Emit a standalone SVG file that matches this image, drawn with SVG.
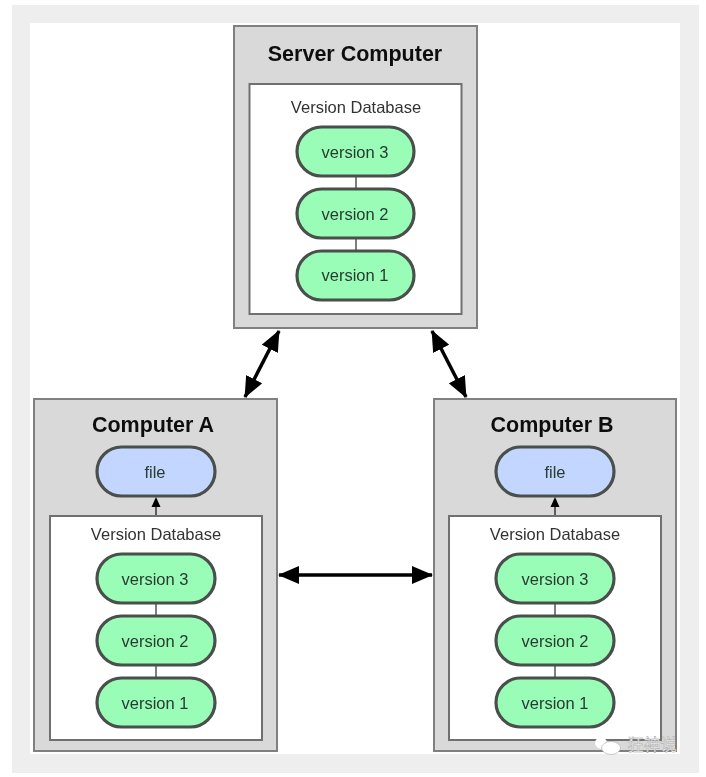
<svg xmlns="http://www.w3.org/2000/svg" width="706" height="777" viewBox="0 0 706 777">
<defs>
<style>
text{font-family:"Liberation Sans",Arial,sans-serif;text-anchor:middle;fill:#222}
.box{fill:#d9d9d9;stroke:#808080;stroke-width:2}
.db{fill:#fff;stroke:#707070;stroke-width:2}
.v{fill:#99fdb8;stroke:#4a4f4c;stroke-width:3.200}
.f{fill:#c2d6ff;stroke:#4a4f4c;stroke-width:3.200}
.t{font-size:21.500px;font-weight:bold;fill:#111}
.d{font-size:16.500px;fill:#333}
.l{font-size:16.500px;fill:#2a3a30}
.link{stroke:#555;stroke-width:1.500;fill:none}
.arr{stroke:#000;stroke-width:3.500;fill:none;marker-start:url(#a);marker-end:url(#a)}
</style>
<marker id="a" viewBox="0 0 21 18" refX="20" refY="9" markerUnits="userSpaceOnUse" markerWidth="21" markerHeight="18" orient="auto-start-reverse"><path d="M0 0L21 9L0 18Z" fill="#000"/></marker>
<filter id="soft" x="-5%" y="-5%" width="110%" height="110%"><feGaussianBlur stdDeviation="0.500"/></filter>
</defs>
<rect width="706" height="777" fill="#fff"/>
<rect x="12" y="5" width="687" height="768" fill="#eeeeee"/>
<rect x="30" y="23" width="650" height="731" fill="#fff"/>
<g filter="url(#soft)">
<g id="server">
<rect class="box" x="234" y="26" width="243" height="302"/>
<text class="t" x="355" y="61">Server Computer</text>
<rect class="db" x="249.500" y="84" width="212" height="230"/>
<text class="d" x="356" y="113">Version Database</text>
<path class="link" d="M356 176V190M356 238V252"/>
<g id="server-v3"><rect class="v" x="297" y="127" width="117" height="49" rx="24.500"/><text class="l" x="355" y="158">version 3</text></g>
<g id="server-v2"><rect class="v" x="297" y="189" width="117" height="49" rx="24.500"/><text class="l" x="355" y="220">version 2</text></g>
<g id="server-v1"><rect class="v" x="297" y="251" width="117" height="49" rx="24.500"/><text class="l" x="355" y="281">version 1</text></g>
</g>
<g id="computer-a">
<rect class="box" x="34" y="399" width="243" height="352"/>
<text class="t" x="153" y="432">Computer A</text>
<rect class="db" x="50" y="516" width="212" height="224"/>
<text class="d" x="156" y="540">Version Database</text>
<path class="link" d="M156 603V617M156 665V679"/>
<g id="a-file"><rect class="f" x="97" y="447" width="118" height="49" rx="24.500"/><text class="l" x="155" y="478">file</text></g>
<g id="a-v3"><rect class="v" x="97" y="554" width="118" height="49" rx="24.500"/><text class="l" x="155" y="585">version 3</text></g>
<g id="a-v2"><rect class="v" x="97" y="616" width="118" height="49" rx="24.500"/><text class="l" x="155" y="647">version 2</text></g>
<g id="a-v1"><rect class="v" x="97" y="678" width="118" height="49" rx="24.500"/><text class="l" x="155" y="709">version 1</text></g>
</g>
<g id="computer-b">
<rect class="box" x="434" y="399" width="242" height="352"/>
<text class="t" x="552" y="432">Computer B</text>
<rect class="db" x="449" y="516" width="212" height="224"/>
<text class="d" x="555" y="540">Version Database</text>
<path class="link" d="M555 603V617M555 665V679"/>
<g id="b-file"><rect class="f" x="496" y="447" width="118" height="49" rx="24.500"/><text class="l" x="555" y="478">file</text></g>
<g id="b-v3"><rect class="v" x="496" y="554" width="118" height="49" rx="24.500"/><text class="l" x="555" y="585">version 3</text></g>
<g id="b-v2"><rect class="v" x="496" y="616" width="118" height="49" rx="24.500"/><text class="l" x="555" y="647">version 2</text></g>
<g id="b-v1"><rect class="v" x="496" y="678" width="118" height="49" rx="24.500"/><text class="l" x="555" y="709">version 1</text></g>
</g>
<g id="connectors">
<path class="arr" d="M279 331L245 397"/>
<path class="arr" d="M432 331L466 397"/>
<path class="arr" d="M279 575H432"/>
<path d="M156 515V503" stroke="#333" stroke-width="1.500" fill="none"/><path d="M156 497L160.500 507H151.500Z" fill="#000"/>
<path d="M555 515V503" stroke="#333" stroke-width="1.500" fill="none"/><path d="M555 497L559.500 507H550.500Z" fill="#000"/>
</g>
</g>
<g id="watermark">
<ellipse cx="601" cy="743" rx="6" ry="5.500" fill="#fff"/>
<ellipse cx="611" cy="748" rx="9.500" ry="6.500" fill="#fff" stroke="#aaa" stroke-width="0.600"/>
<text x="652" y="751" style="font-family:'Noto Sans CJK SC','Liberation Sans',sans-serif;font-size:16.500px;fill:#f4f4f4;stroke:#999;stroke-width:0.400">狂神说</text>
</g>
</svg>
